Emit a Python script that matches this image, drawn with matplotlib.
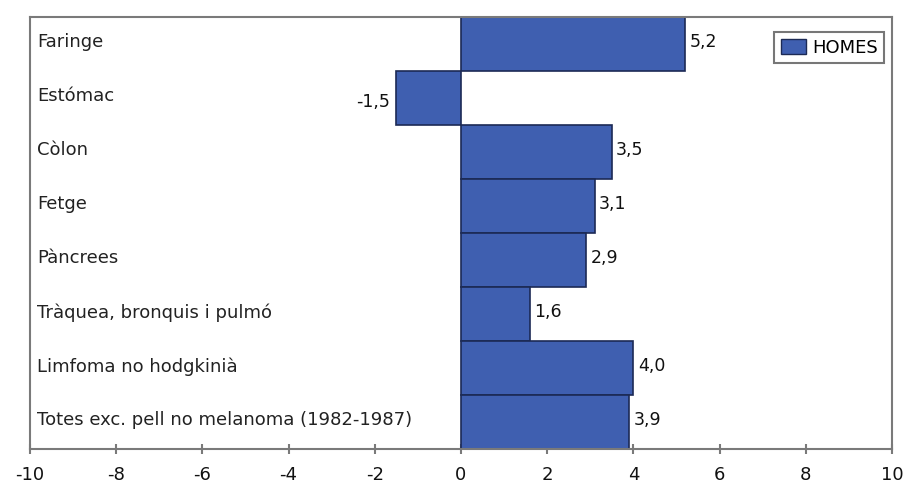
import matplotlib
matplotlib.use("Agg")
import matplotlib.pyplot as plt
from matplotlib.patches import Patch

categories = ["Faringe", "Estómac", "Còlon", "Fetge", "Pàncrees",
              "Tràquea, bronquis i pulmó", "Limfoma no hodgkinià",
              "Totes exc. pell no melanoma (1982-1987)"]
values = [5.2, -1.5, 3.5, 3.1, 2.9, 1.6, 4.0, 3.9]
value_labels = ["5,2", "-1,5", "3,5", "3,1", "2,9", "1,6", "4,0", "3,9"]
xticks = [-10, -8, -6, -4, -2, 0, 2, 4, 6, 8, 10]
series_name = "HOMES"

fig = plt.figure(figsize=(9.07, 4.85), dpi=100)
ax = fig.add_axes([30/907, 1 - 450/485, (892-30)/907, (450-18)/485])

ypos = list(range(len(categories)))
ax.barh(ypos, values, height=1.0, color="#3f5fb0", edgecolor="#1c2a55",
        linewidth=1.2, zorder=2)

ax.set_xlim(-10, 10)
ax.set_ylim(len(categories) - 0.5, -0.5)
ax.set_yticks([])
ax.set_xticks(xticks)
ax.set_xticklabels([str(t) for t in xticks], fontsize=13, color="#111111")
ax.tick_params(axis="x", direction="inout", length=7, width=1.5,
               color="#7a7a7a", pad=8)

for s in ax.spines.values():
    s.set_color("#7a7a7a")
    s.set_linewidth(1.5)

for y, cat in zip(ypos, categories):
    ax.text(-9.83, y - 0.05, cat, ha="left", va="center", fontsize=13,
            color="#222222", zorder=3)

for y, v, lab in zip(ypos, values, value_labels):
    if v >= 0:
        ax.text(v + 0.1, y - 0.05, lab, ha="left", va="center",
                fontsize=12.5, color="#111111", zorder=3)
    else:
        ax.text(v - 0.15, y + 0.05, lab, ha="right", va="center",
                fontsize=12.5, color="#111111", zorder=3)

leg = ax.legend(handles=[Patch(facecolor="#3f5fb0", edgecolor="#1c2a55",
                               label=series_name)],
                loc="upper right", bbox_to_anchor=(0.991, 0.965),
                frameon=True, fancybox=False, fontsize=13,
                handlelength=1.4, handleheight=0.9, handletextpad=0.35,
                borderpad=0.35, borderaxespad=0.0)
leg.get_frame().set_edgecolor("#555555")
leg.get_frame().set_linewidth(1.5)

fig.savefig("out.png", dpi=100)
